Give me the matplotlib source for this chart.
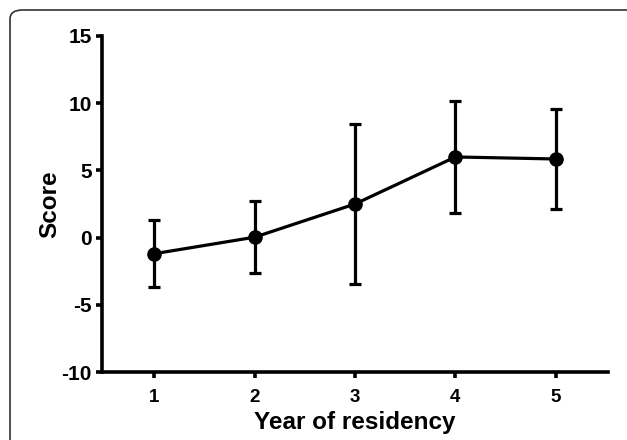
import matplotlib
matplotlib.use("Agg")
import matplotlib.pyplot as plt
from matplotlib.patches import FancyBboxPatch

# data
years = [1, 2, 3, 4, 5]
score_mean = [-1.2, 0.03, 2.5, 6.0, 5.85]
score_err = [2.5, 2.7, 5.95, 4.15, 3.75]

y_ticks = [-10, -5, 0, 5, 10, 15]

plt.rcParams['font.family'] = ['Liberation Sans', 'DejaVu Sans']
plt.rcParams['font.weight'] = 'bold'
plt.rcParams['axes.unicode_minus'] = False

W, H = 627, 440
fig = plt.figure(figsize=(W / 100, H / 100), dpi=100)

# rounded frame around the panel (runs past the right and bottom edges)
frame = FancyBboxPatch((10 / W, -20 / H), 640 / W, (H - 10 + 20) / H,
                       boxstyle="round,pad=0,rounding_size=0.02",
                       transform=fig.transFigure, fill=False,
                       edgecolor='#333333', linewidth=1.2, clip_on=False)
fig.patches.append(frame)

ax = fig.add_axes([102 / W, (H - 372) / H, 506 / W, 336 / H])
ax.errorbar(years, score_mean, yerr=score_err, color='black', linewidth=2.3,
            elinewidth=2.3, capsize=4.5, capthick=2.3, marker='o',
            markersize=9.5)

ax.set_xlim(0.48, 5.52)
ax.set_ylim(-10, 15)
ax.set_xticks(years)
ax.set_yticks(y_ticks)
ax.spines['top'].set_visible(False)
ax.spines['right'].set_visible(False)
for s in ('left', 'bottom'):
    ax.spines[s].set_linewidth(2.6)
ax.tick_params(axis='y', width=2.6, length=4.5, labelsize=15, pad=3)
ax.tick_params(axis='x', width=2.6, length=4.5, labelsize=13.5, pad=8)
ax.set_xlabel('Year of residency', fontsize=17.5, fontweight='bold', labelpad=3)
ax.set_ylabel('Score', fontsize=17.5, fontweight='bold', labelpad=0)

fig.savefig('out.png', dpi=100)
